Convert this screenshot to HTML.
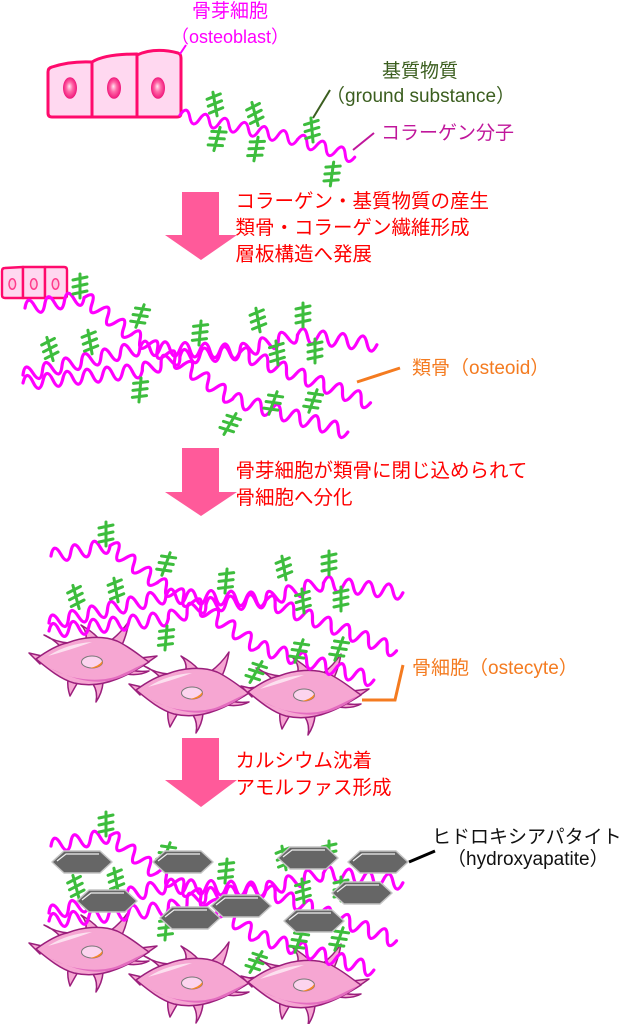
<!DOCTYPE html>
<html><head><meta charset="utf-8"><style>html,body{margin:0;padding:0;background:#fff;}svg{display:block;}</style></head>
<body>
<svg width="626" height="1024" viewBox="0 0 626 1024" xmlns="http://www.w3.org/2000/svg" font-family="'Liberation Sans','Noto Sans CJK JP',sans-serif">
<defs>
<radialGradient id="ng" cx="50%" cy="50%" r="50%" fx="45%" fy="42%">
<stop offset="0" stop-color="#ffe6f2"/>
<stop offset="0.45" stop-color="#ff6aa8"/>
<stop offset="1" stop-color="#f0167a"/>
</radialGradient>
<path id="w40" d="M0,0q5,-14 10,0t10,0t10,0t10,0"/>
<path id="w60" d="M0,0q5,-14 10,0t10,0t10,0t10,0t10,0t10,0"/>
<path id="w80" d="M0,0q5,-14 10,0t10,0t10,0t10,0t10,0t10,0t10,0t10,0"/>
<path id="w100" d="M0,0q5,-14 10,0t10,0t10,0t10,0t10,0t10,0t10,0t10,0t10,0t10,0"/>
<path id="w120" d="M0,0q5,-14 10,0t10,0t10,0t10,0t10,0t10,0t10,0t10,0t10,0t10,0t10,0t10,0"/>
<path id="w140" d="M0,0q5,-14 10,0t10,0t10,0t10,0t10,0t10,0t10,0t10,0t10,0t10,0t10,0t10,0t10,0t10,0"/>
<g id="fb" fill="none" stroke="#3dbd3d" stroke-width="3" stroke-linecap="round"><path d="M0,-12V12M-7,-6L7,-9M-7,1L7,-2M-7,8L7,5"/></g>
<g id="fib" fill="none" stroke="#ff00ff" stroke-width="3.2" stroke-linecap="round">
<use href="#w60" transform="translate(25,308) rotate(-10)"/>
<use href="#w60" transform="translate(84.1,297.6) rotate(38)"/>
<use href="#w60" transform="translate(131.4,334.6) rotate(30)"/>
<use href="#w60" transform="translate(183.4,364.6) rotate(35)"/>
<use href="#w120" transform="translate(232.5,399) rotate(16)"/>
<use href="#w120" transform="translate(23,375) rotate(-13)"/>
<use href="#w100" transform="translate(139.9,348) rotate(2)"/>
<use href="#w60" transform="translate(239.8,351.5) rotate(-16)"/>
<use href="#w80" transform="translate(297.5,335) rotate(7)"/>
<use href="#w120" transform="translate(23,383) rotate(-6)"/>
<use href="#w40" transform="translate(142.3,370.5) rotate(-20)"/>
<use href="#w60" transform="translate(179.9,356.8) rotate(-4)"/>
<use href="#w140" transform="translate(239.8,352.6) rotate(21)"/>
</g>
<g id="grn">
<use href="#fb" transform="translate(80,286)"/>
<use href="#fb" transform="translate(140,316) rotate(20)"/>
<use href="#fb" transform="translate(50,349) rotate(-15)"/>
<use href="#fb" transform="translate(90,342) rotate(-10)"/>
<use href="#fb" transform="translate(200,333) rotate(5)"/>
<use href="#fb" transform="translate(258,320) rotate(-10)"/>
<use href="#fb" transform="translate(303,315)"/>
<use href="#fb" transform="translate(277,353) rotate(-5)"/>
<use href="#fb" transform="translate(315,351)"/>
<use href="#fb" transform="translate(140,390) rotate(5)"/>
<use href="#fb" transform="translate(230,424) rotate(30)"/>
<use href="#fb" transform="translate(273,403) rotate(20)"/>
<use href="#fb" transform="translate(313,401) rotate(20)"/>
</g>
<g id="oc" stroke="#9b1f7c" stroke-width="1.5" stroke-linejoin="round">
<g fill="#f6a6d2">
<path d="M-32,-16Q-40,-24 -48,-27Q-37,-20 -23,-19Z"/>
<path d="M-6,-23Q-5,-31 -11,-37Q1,-30 6,-24Z"/>
<path d="M18,-21Q29,-29 37,-41Q35,-28 30,-17Z"/>
<path d="M48,-4L65,-6L52,3Z"/>
<path d="M38,8Q47,10 57,9Q48,14 34,12Z"/>
<path d="M-24,17Q-25,25 -22,34Q-17,25 -14,20Z"/>
<path d="M1,22Q6,30 4,40Q10,31 11,21Z"/>
<path d="M-50,-6L-63,-9L-52,2Z"/>
<path d="M-56,-3C-45,-11 -35,-17 -25,-19C-10,-25 10,-27 25,-21C38,-15 48,-6 57,0C46,7 36,13 25,17C10,23 -5,24 -18,21C-32,17 -45,6 -56,-3Z"/>
</g>
<path d="M-42,6C-20,19 10,21 28,13C40,8 48,3 54,1C44,9 34,14 24,17C8,22 -12,21 -42,6Z" fill="#e36cbf" stroke="none"/>
<path d="M-44,-6C-30,-15 -15,-19 0,-20C-16,-14 -30,-10 -44,-6Z" fill="#fff" opacity=".65" stroke="none"/>
<ellipse rx="10.5" ry="6" fill="#fcd4ee" stroke="#777" stroke-width="1"/>
<path d="M10.3,-1A10.5,6 0 0 1 -2,6Q7,4 10.3,-1Z" fill="#f5862a" stroke="none"/>
</g>
<g id="hx">
<polygon points="-30,0 -18,-11 18,-11 30,0 18,11 -18,11" fill="#666" stroke="#c4c4c4" stroke-width="1.5" stroke-linejoin="round"/>
<polyline points="-25,-1 -16,-8 17,-8" fill="none" stroke="#fff" stroke-width="1.2" opacity=".9"/>
</g>
</defs>

<!-- Section 1 -->
<g stroke="#ff0a6c" stroke-width="3" fill="#ffd8f0" stroke-linejoin="round">
<path d="M48,72Q48,68 52,67Q70,61 92,62L92,117L52,117Q48,117 48,113Z"/>
<path d="M92,62Q105,54 137,54L137,117L92,117Z"/>
<path d="M137,55Q155,47 178,53Q181,54 181,58L181,113Q181,117 177,117L137,117Z"/>
</g>
<g fill="url(#ng)">
<ellipse cx="70" cy="88" rx="7" ry="10.8"/>
<ellipse cx="114" cy="88" rx="7" ry="10.8"/>
<ellipse cx="158" cy="88" rx="7" ry="10.8"/>
</g>
<g fill="none" stroke="#ff00ff" stroke-width="3" stroke-linecap="round">
<path transform="translate(180,115) rotate(11.8)" d="M0,0q5,-12 10,0t10,0t10,0t10,0t10,0t10,0t10,0t10,0t10,0t10,0t10,0t10,0"/>
<path transform="translate(297.4,139.6) rotate(17)" d="M0,0q5,-12 10,0t10,0t10,0t10,0t10,0t10,0"/>
</g>
<use href="#fb" transform="translate(215,104) rotate(-10)"/>
<use href="#fb" transform="translate(217,139) rotate(15)"/>
<use href="#fb" transform="translate(255,114) rotate(-15)"/>
<use href="#fb" transform="translate(256,149) rotate(10)"/>
<use href="#fb" transform="translate(312,130) rotate(-5)"/>
<use href="#fb" transform="translate(332,174) rotate(8)"/>
<line x1="180" y1="54" x2="186" y2="45" stroke="#ff00ff" stroke-width="2"/>
<line x1="313" y1="118" x2="330" y2="90" stroke="#3b5e1f" stroke-width="2"/>
<line x1="353" y1="150" x2="374" y2="133" stroke="#c0169b" stroke-width="2"/>
<text x="192" y="17" fill="#ff00ff" font-size="19">骨芽細胞</text>
<text x="171" y="43" fill="#ff00ff" font-size="18">（osteoblast）</text>
<text x="382" y="77" fill="#3b5e1f" font-size="19">基質物質</text>
<text x="326" y="102" fill="#3b5e1f" font-size="19">（ground substance）</text>
<text x="381" y="139" fill="#c0169b" font-size="19">コラーゲン分子</text>

<!-- Arrow 1 -->
<polygon points="182,192 219,192 219,235 237,235 201,260 165,235 182,235" fill="#ff5a9a"/>
<g fill="#ff0000" font-size="19.5">
<text x="235.5" y="207.5">コラーゲン・基質物質の産生</text>
<text x="235.5" y="234">類骨・コラーゲン繊維形成</text>
<text x="235.5" y="260.5">層板構造へ発展</text>
</g>

<!-- Section 2 -->
<g stroke="#ff0a6c" stroke-width="2.4" fill="#ffd8f0" stroke-linejoin="round">
<path d="M2,271Q2,268 5,268L23,267L23,298L5,298Q2,298 2,295Z"/>
<path d="M23,267L45,267L45,298L23,298Z"/>
<path d="M45,267L64,267Q67,267 67,270L67,295Q67,298 64,298L45,298Z"/>
</g>
<g fill="#ffc4e0" stroke="#ff3c8c" stroke-width="1.5">
<ellipse cx="12.3" cy="284" rx="3.3" ry="5.2"/>
<ellipse cx="33.8" cy="284" rx="3.3" ry="5.2"/>
<ellipse cx="55.5" cy="284" rx="3.3" ry="5.2"/>
</g>
<use href="#fib"/>
<use href="#grn"/>
<line x1="357" y1="382" x2="400" y2="368" stroke="#f47b20" stroke-width="3"/>
<text x="412" y="374" fill="#f47b20" font-size="19">類骨（osteoid）</text>

<!-- Arrow 2 -->
<polygon points="182,448 219,448 219,492 237,492 201,516 165,492 182,492" fill="#ff5a9a"/>
<g fill="#ff0000" font-size="19.5">
<text x="235.5" y="477">骨芽細胞が類骨に閉じ込められて</text>
<text x="235.5" y="504">骨細胞へ分化</text>
</g>

<!-- Section 3 -->
<use href="#oc" transform="translate(92,662)"/>
<use href="#oc" transform="translate(192,693)"/>
<use href="#oc" transform="translate(304,695)"/>
<g transform="translate(26,248)">
<use href="#fib"/>
<use href="#grn"/>
</g>
<polyline points="362,700 395,700 403,665" fill="none" stroke="#f47b20" stroke-width="3"/>
<text x="412" y="674" fill="#f47b20" font-size="19">骨細胞（ostecyte）</text>

<!-- Arrow 3 -->
<polygon points="182,738 219,738 219,780 237,780 201,807 165,780 182,780" fill="#ff5a9a"/>
<g fill="#ff0000" font-size="19.5">
<text x="235.5" y="767">カルシウム沈着</text>
<text x="235.5" y="794">アモルファス形成</text>
</g>

<!-- Section 4 -->
<use href="#oc" transform="translate(92,952)"/>
<use href="#oc" transform="translate(192,983)"/>
<use href="#oc" transform="translate(304,985)"/>
<g transform="translate(26,538)">
<use href="#fib"/>
<use href="#grn"/>
</g>
<use href="#hx" transform="translate(82,862)"/>
<use href="#hx" transform="translate(183,862)"/>
<use href="#hx" transform="translate(308,858)"/>
<use href="#hx" transform="translate(378,862)"/>
<use href="#hx" transform="translate(107,901)"/>
<use href="#hx" transform="translate(362,893)"/>
<use href="#hx" transform="translate(190,918)"/>
<use href="#hx" transform="translate(241,906)"/>
<use href="#hx" transform="translate(314,921)"/>
<line x1="409" y1="862" x2="435" y2="851" stroke="#000" stroke-width="3"/>
<text x="432" y="843" fill="#111" font-size="19">ヒドロキシアパタイト</text>
<text x="447" y="865" fill="#111" font-size="19">（hydroxyapatite）</text>
</svg>
</body></html>
